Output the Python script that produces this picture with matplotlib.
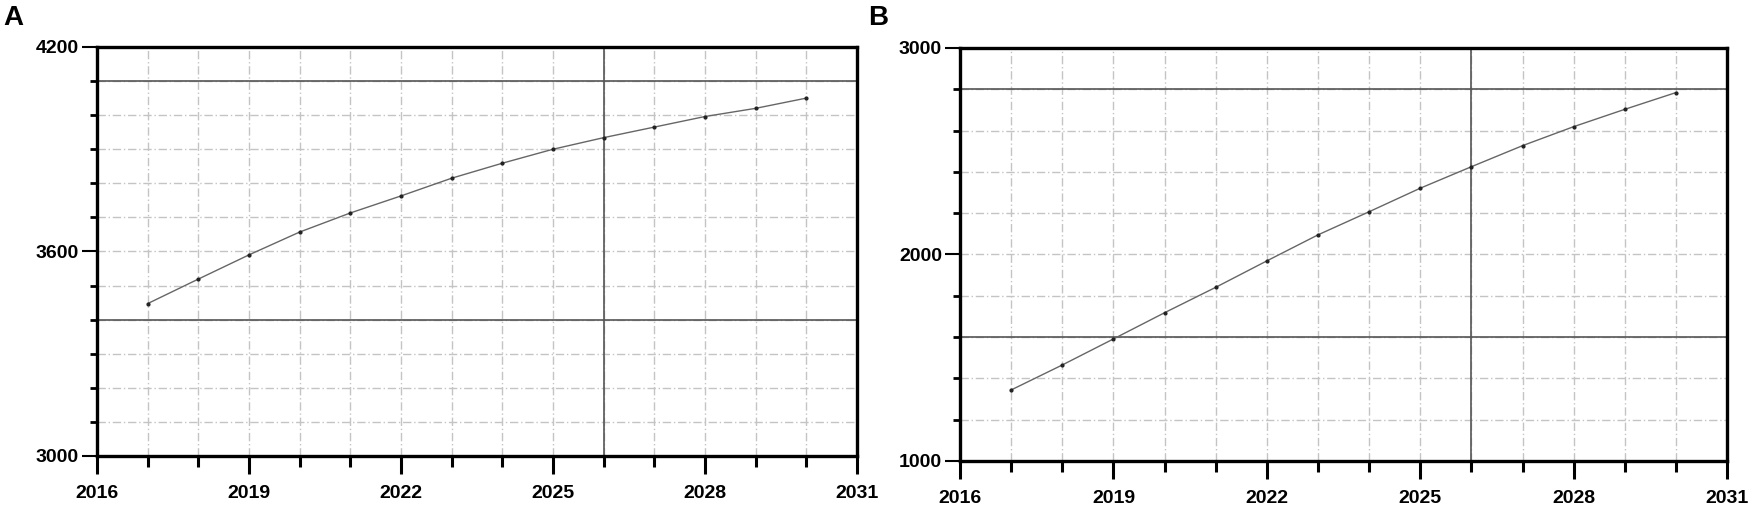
import numpy as np
import matplotlib
matplotlib.use('Agg')
import matplotlib.pyplot as plt
from matplotlib.ticker import MultipleLocator

plt.rcParams['font.family'] = ['Liberation Sans', 'DejaVu Sans']

years = [2017, 2018, 2019, 2020, 2021, 2022, 2023, 2024, 2025, 2026, 2027, 2028, 2029, 2030]
valuesA = [3447, 3519, 3590, 3657, 3713, 3763, 3815, 3859, 3900, 3934, 3965, 3996, 4020, 4050]
valuesB = [1344, 1465, 1591, 1718, 1841, 1969, 2095, 2207, 2321, 2425, 2527, 2619, 2703, 2784]

xticks = [2016, 2019, 2022, 2025, 2028, 2031]
yticksA = [3000, 3600, 4200]
yticksB = [1000, 2000, 3000]

fig = plt.figure(figsize=(17.5, 5.21), dpi=100)

def panel(rect, vals, ylim, yticks, ystep, dark_y, letter, letter_x):
    ax = fig.add_axes(rect)
    ax.set_xlim(2016, 2031)
    ax.set_ylim(*ylim)
    # light grid
    for yr in range(2017, 2031):
        ax.axvline(yr, color='#c4c4c4', lw=1.0, ls=(0, (6, 2, 1, 2)), zorder=1)
    for v in np.arange(ylim[0] + ystep, ylim[1], ystep):
        ax.axhline(v, color='#c4c4c4', lw=1.0, ls=(0, (6, 2, 1, 2)), zorder=1)
    # darker reference lines
    ax.axvline(2026, color='#555555', lw=1.2, zorder=2)
    for v in dark_y:
        ax.axhline(v, color='#555555', lw=1.2, zorder=2)
    ax.plot(years, vals, color='#666666', lw=1.0, marker='.', ms=4,
            mfc='#222222', mec='#222222', zorder=3)
    for s in ax.spines.values():
        s.set_linewidth(2.4)
    ax.set_xticks(xticks)
    ax.xaxis.set_minor_locator(MultipleLocator(1))
    ax.set_yticks(yticks)
    ax.yaxis.set_minor_locator(MultipleLocator(ystep))
    ax.tick_params(axis='x', which='major', length=13, width=2.2, direction='out', pad=8)
    ax.tick_params(axis='x', which='minor', length=8, width=2.2, direction='out')
    ax.tick_params(axis='y', which='major', length=11, width=1.5, direction='out', pad=2)
    ax.tick_params(axis='y', which='minor', length=5, width=2.0, direction='out')
    for lab in ax.get_xticklabels() + ax.get_yticklabels():
        lab.set_fontsize(14)
        lab.set_fontweight('bold')
    fig.text(letter_x, 0.99, letter, fontsize=20, fontweight='bold', va='top', ha='left')
    return ax

panel([0.0554, 0.1248, 0.4343, 0.785], valuesA, (3000, 4200), yticksA, 100,
      [3400, 4100], 'A', 0.002)
panel([0.5486, 0.1152, 0.4383, 0.7927], valuesB, (1000, 3000), yticksB, 200,
      [1600, 2800], 'B', 0.496)

fig.savefig('out.png', dpi=100)
